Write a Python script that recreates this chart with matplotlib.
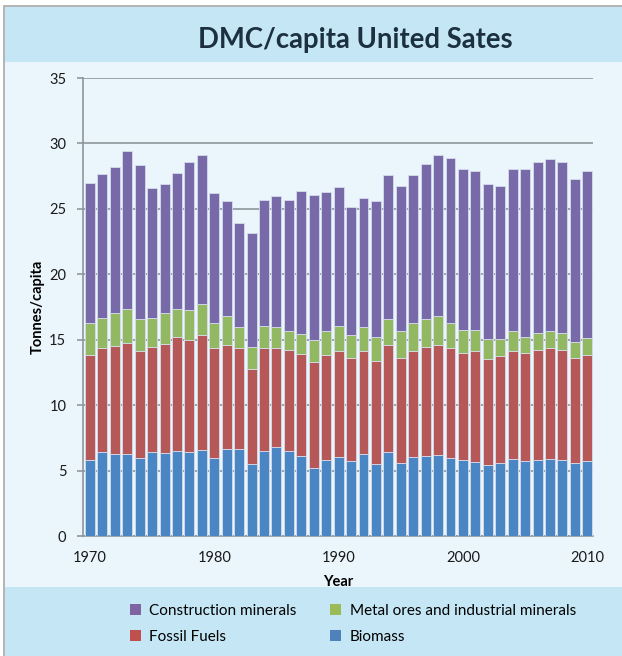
import matplotlib
matplotlib.use("Agg")
import matplotlib.pyplot as plt
from matplotlib.patches import Rectangle, Patch
import numpy as np

years = list(range(1970, 2011))
biomass = [5.80, 6.41, 6.28, 6.28, 5.98, 6.41, 6.36, 6.46, 6.41, 6.56,
           5.98, 6.64, 6.64, 5.50, 6.51, 6.79, 6.51, 6.08, 5.19, 5.80,
           6.03, 5.75, 6.26, 5.50, 6.41, 5.57, 6.03, 6.08, 6.18, 5.95,
           5.80, 5.62, 5.42, 5.60, 5.88, 5.73, 5.83, 5.88, 5.83, 5.57, 5.70]
fossil = [8.07, 7.99, 8.27, 8.45, 8.17, 8.07, 8.35, 8.73, 8.58, 8.83,
          8.42, 7.99, 7.69, 7.30, 7.89, 7.61, 7.74, 7.86, 8.07, 8.07,
          8.14, 7.86, 7.91, 7.86, 8.22, 8.04, 8.14, 8.35, 8.45, 8.38,
          8.19, 8.48, 8.14, 8.12, 8.29, 8.26, 8.39, 8.47, 8.39, 8.04, 8.17]
metal = [2.44, 2.29, 2.50, 2.60, 2.44, 2.21, 2.34, 2.14, 2.26, 2.35,
         1.91, 2.16, 1.62, 1.63, 1.63, 1.55, 1.42, 1.53, 1.73, 1.80,
         1.86, 1.76, 1.81, 1.88, 1.99, 2.06, 2.14, 2.16, 2.21, 1.98,
         1.74, 1.63, 1.50, 1.32, 1.48, 1.23, 1.28, 1.32, 1.28, 1.22, 1.24]
construction = [10.69, 10.94, 11.17, 12.06, 11.78, 9.93, 9.82, 10.38, 11.33, 11.34,
                9.87, 8.81, 7.94, 8.70, 9.62, 10.03, 10.03, 10.89, 11.09, 10.64,
                10.66, 9.77, 9.82, 10.33, 10.96, 11.07, 11.25, 11.81, 12.29, 12.54,
                12.34, 12.16, 11.81, 11.70, 12.37, 12.85, 13.05, 13.13, 13.05, 12.45, 12.75]

series_names = ["Construction minerals", "Metal ores and industrial minerals",
                "Fossil Fuels", "Biomass"]
bar_colors = {"Biomass": "#4A86C3", "Fossil Fuels": "#B65858",
              "Metal ores and industrial minerals": "#93B862",
              "Construction minerals": "#786AA8"}
legend_colors = {"Biomass": "#4F81BD", "Fossil Fuels": "#C0504D",
                 "Metal ores and industrial minerals": "#9BBB59",
                 "Construction minerals": "#8064A2"}

W, H = 622, 656
fig = plt.figure(figsize=(W / 100, H / 100), dpi=100)
fig.patch.set_facecolor("white")

def px_rect(x0, y0, x1, y1, **kw):
    r = Rectangle((x0 / W, 1 - y1 / H), (x1 - x0) / W, (y1 - y0) / H,
                  transform=fig.transFigure, **kw)
    fig.add_artist(r)
    return r

px_rect(4, 6, 623, 657, facecolor="#EBF6FC", edgecolor="#A8A8A8", linewidth=1.2, zorder=0)
px_rect(4.6, 6.6, 623, 62, facecolor="#C5E7F5", edgecolor="none", zorder=0)
px_rect(4.6, 587, 623, 657, facecolor="#C5E7F5", edgecolor="none", zorder=0)

ax = fig.add_axes([83 / W, 1 - 536 / H, (593 - 83) / W, (536 - 78) / H])
ax.set_facecolor("none")

x = np.array(years, dtype=float)
b = np.array(biomass)
f = np.array(fossil)
m = np.array(metal)
c = np.array(construction)
ec = "#D6DCEB"
ax.bar(x, b, width=0.8, color=bar_colors["Biomass"], edgecolor=ec, linewidth=0.6, zorder=3)
ax.bar(x, f, width=0.8, bottom=b, color=bar_colors["Fossil Fuels"], edgecolor=ec, linewidth=0.6, zorder=3)
ax.bar(x, m, width=0.8, bottom=b + f, color=bar_colors["Metal ores and industrial minerals"], edgecolor=ec, linewidth=0.6, zorder=3)
ax.bar(x, c, width=0.8, bottom=b + f + m, color=bar_colors["Construction minerals"], edgecolor=ec, linewidth=0.6, zorder=3)

ax.set_xlim(1969.44, 2010.46)
ax.set_ylim(0, 35)
ax.set_yticks(np.arange(0, 36, 5))
ax.set_xticks([1970, 1980, 1990, 2000, 2010])
ax.yaxis.grid(True, color="#8E969B", linewidth=1.2, zorder=1)
ax.set_axisbelow(True)
for s in ["top", "right"]:
    ax.spines[s].set_visible(False)
for s in ["left", "bottom"]:
    ax.spines[s].set_color("#8E969B")
    ax.spines[s].set_linewidth(1.2)
ax.tick_params(axis="y", length=4, color="#8E969B", width=1.2, pad=8,
               labelsize=10.5, labelcolor="#1a1a1a")
ax.tick_params(axis="x", length=0, pad=11, labelsize=10.5, labelcolor="#1a1a1a")
for lab in ax.get_xticklabels() + ax.get_yticklabels():
    lab.set_family("Lato")

ax.set_xlabel("Year", fontsize=10.5, fontweight="bold", family="Lato", labelpad=7)
ax.set_ylabel("Tonnes/capita", fontsize=10.5, fontweight="bold", family="Lato", labelpad=3)

fig.text(355 / W, 1 - 40 / H, "DMC/capita United Sates", ha="center", va="center",
         fontsize=19.8, fontweight="bold", color="#1C3040", family="Lato")

order = ["Construction minerals", "Fossil Fuels", "Metal ores and industrial minerals", "Biomass"]
handles = [Patch(facecolor=legend_colors[n], edgecolor="none", label=n) for n in order]
leg = fig.legend(handles=handles, ncol=2, loc="center left",
                 bbox_to_anchor=(116 / W, 1 - 624 / H), frameon=False,
                 prop={"family": "Lato", "size": 11}, handlelength=0.72,
                 handleheight=0.72, handletextpad=0.55, columnspacing=2.2,
                 labelspacing=0.8)

fig.savefig("out.png", dpi=100)
